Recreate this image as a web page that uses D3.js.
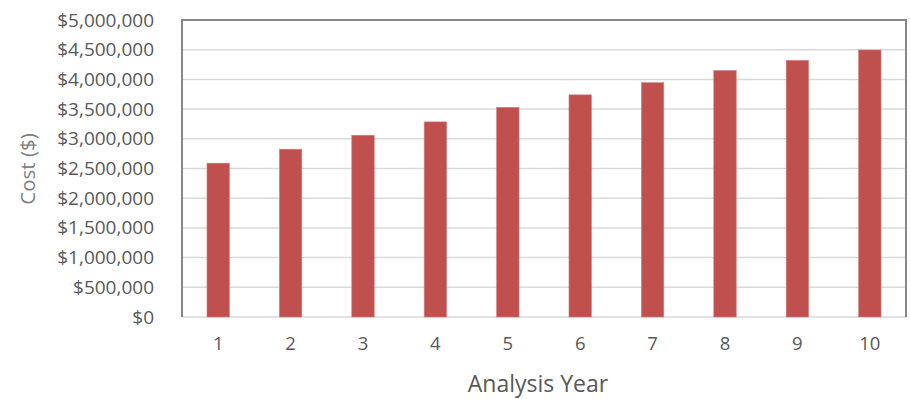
<!DOCTYPE html>
<html>
<head>
<meta charset="utf-8">
<script src="https://cdn.jsdelivr.net/npm/d3@7"></script>
<style>
  body { margin: 0; background: #fff; }
  svg { display: block; font-family: "Open Sans", "Noto Sans", sans-serif; }
  .tick text { fill: #595959; }
</style>
</head>
<body>
<svg id="chart" width="910" height="399"></svg>
<script>
// values
var years = ["1", "2", "3", "4", "5", "6", "7", "8", "9", "10"];
var costs = [2590000, 2825000, 3060000, 3285000, 3530000, 3740000, 3945000, 4150000, 4320000, 4495000];
var yTicks = [0, 500000, 1000000, 1500000, 2000000, 2500000, 3000000, 3500000, 4000000, 4500000, 5000000];

var svg = d3.select("#chart");
var plotLeft = 182, plotTop = 20, plotRight = 906, plotBottom = 317;

var x = d3.scaleBand()
    .domain(years)
    .range([plotLeft, plotRight])
    .paddingInner(0.69)
    .paddingOuter(0.345);

var y = d3.scaleLinear()
    .domain([0, 5000000])
    .range([plotBottom, plotTop]);

// gridlines
svg.append("g")
    .selectAll("line")
    .data(yTicks)
    .enter()
    .append("line")
    .attr("x1", plotLeft)
    .attr("x2", plotRight)
    .attr("y1", function(d) { return y(d); })
    .attr("y2", function(d) { return y(d); })
    .attr("stroke", "#d9d9d9")
    .attr("stroke-width", 1.5);

// bars
svg.append("g")
    .selectAll("rect")
    .data(costs)
    .enter()
    .append("rect")
    .attr("x", function(d, i) { return x(years[i]); })
    .attr("width", x.bandwidth())
    .attr("y", function(d) { return y(d); })
    .attr("height", function(d) { return plotBottom - y(d); })
    .attr("fill", "#c0504d")
    .attr("stroke", "#d6817e")
    .attr("stroke-width", 0.6);

// frame: top, right, left
svg.append("path")
    .attr("d", "M" + plotLeft + "," + plotBottom + "V" + plotTop + "H" + plotRight + "V" + plotBottom)
    .attr("fill", "none")
    .attr("stroke", "#878787")
    .attr("stroke-width", 2);

var fmt = function(d) { return "$" + d3.format(",")(d); };

var yAxis = svg.append("g")
    .attr("transform", "translate(" + (plotLeft - 28) + ",0)")
    .call(d3.axisLeft(y).tickValues(yTicks).tickFormat(fmt).tickSize(0).tickPadding(0))
    .attr("font-family", null)
    .attr("font-size", 19);
yAxis.select(".domain").remove();

var xAxis = svg.append("g")
    .attr("transform", "translate(0," + plotBottom + ")")
    .call(d3.axisBottom(x).tickSize(0).tickPadding(20))
    .attr("font-family", null)
    .attr("font-size", 18.5);
xAxis.select(".domain").remove();

svg.append("text")
    .attr("x", 538)
    .attr("y", 392)
    .attr("text-anchor", "middle")
    .attr("font-size", 23)
    .attr("fill", "#595959")
    .text("Analysis Year");

svg.append("text")
    .attr("transform", "translate(35,169) rotate(-90)")
    .attr("text-anchor", "middle")
    .attr("font-size", 20.5)
    .attr("fill", "#7f7f7f")
    .text("Cost ($)");
</script>
</body>
</html>
